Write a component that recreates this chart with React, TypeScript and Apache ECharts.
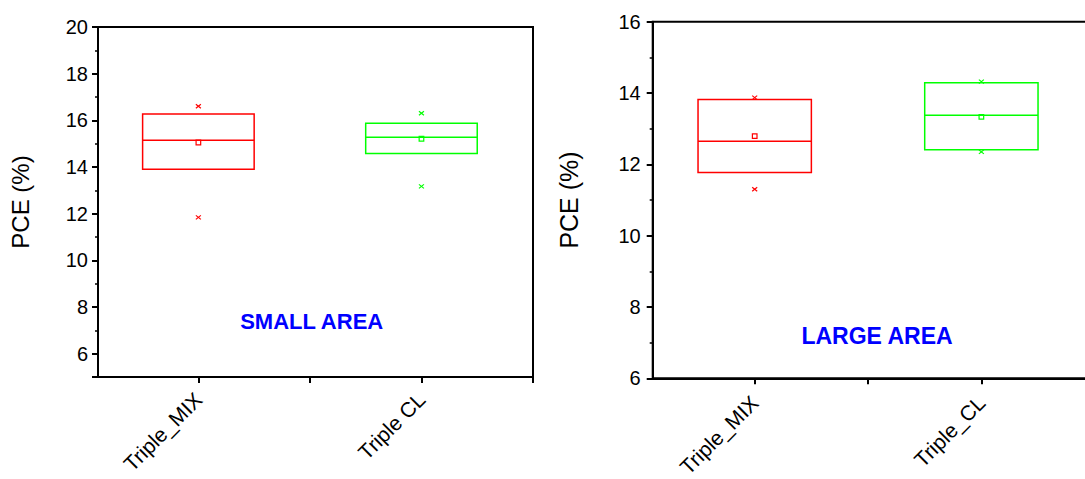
import React, { useEffect, useRef } from 'react';
import * as echarts from 'echarts';

// ---- data ----
const smallCategories = ['Triple_MIX', 'Triple CL'];
const largeCategories = ['Triple_MIX', 'Triple_CL'];
const positions = [1, 2];
const boxColors = ['#ff0000', '#00ff00'];

// SMALL AREA statistics
const smallQ1 = [13.9, 14.58];
const smallMedian = [15.15, 15.27];
const smallQ3 = [16.27, 15.87];
const smallMean = [15.05, 15.21];
const smallMin = [11.84, 13.17];
const smallMax = [16.6, 16.3];

// LARGE AREA statistics
const largeQ1 = [11.77, 12.41];
const largeMedian = [12.65, 13.38];
const largeQ3 = [13.82, 14.29];
const largeMean = [12.79, 13.33];
const largeMin = [11.3, 12.35];
const largeMax = [13.87, 14.32];

const BOX_WIDTH = 0.5;
const FONT = '"Liberation Sans", Arial, sans-serif';

function rows(q1: number[], med: number[], q3: number[], mean: number[], mn: number[], mx: number[]) {
  return positions.map((p, i) => [p, q1[i], med[i], q3[i], mean[i], mn[i], mx[i]]);
}

function renderBox(params: any, api: any) {
  const x = api.value(0);
  const q1 = api.value(1);
  const med = api.value(2);
  const q3 = api.value(3);
  const mean = api.value(4);
  const mn = api.value(5);
  const mx = api.value(6);
  const color = boxColors[params.dataIndex % boxColors.length];
  const left = api.coord([x - BOX_WIDTH / 2, q1])[0];
  const right = api.coord([x + BOX_WIDTH / 2, q1])[0];
  const cx = api.coord([x, q1])[0];
  const yq1 = api.coord([x, q1])[1];
  const yq3 = api.coord([x, q3])[1];
  const ymed = api.coord([x, med])[1];
  const ymean = api.coord([x, mean])[1];
  const ymin = api.coord([x, mn])[1];
  const ymax = api.coord([x, mx])[1];
  const lw = 1.5;
  const cross = (y: number) => [
    { type: 'line', shape: { x1: cx - 2.5, y1: y - 2, x2: cx + 2.5, y2: y + 2 }, style: { stroke: color, lineWidth: 1.2 } },
    { type: 'line', shape: { x1: cx - 2.5, y1: y + 2, x2: cx + 2.5, y2: y - 2 }, style: { stroke: color, lineWidth: 1.2 } },
  ];
  return {
    type: 'group',
    children: [
      {
        type: 'rect',
        shape: { x: left, y: yq3, width: right - left, height: yq1 - yq3 },
        style: { fill: 'none', stroke: color, lineWidth: lw },
      },
      {
        type: 'line',
        shape: { x1: left, y1: ymed, x2: right, y2: ymed },
        style: { stroke: color, lineWidth: lw },
      },
      {
        type: 'rect',
        shape: { x: cx - 2.3, y: ymean - 2.3, width: 4.6, height: 4.6 },
        style: { fill: 'none', stroke: color, lineWidth: 1.2 },
      },
      ...cross(ymin),
      ...cross(ymax),
    ],
  };
}

function xAxisFor(gridIndex: number, names: string[], margin: number) {
  return {
    type: 'value',
    gridIndex,
    min: 0.55,
    max: 2.5,
    minInterval: 0.5,
    maxInterval: 0.5,
    axisLine: { show: true, lineStyle: { color: '#000', width: 2 } },
    axisTick: { show: true, length: 6, lineStyle: { color: '#000', width: 2 } },
    splitLine: { show: false },
    axisLabel: {
      rotate: 45,
      margin,
      color: '#000',
      fontSize: 21,
      fontFamily: FONT,
      showMinLabel: false,
      formatter: (v: number) => {
        const idx = positions.indexOf(v);
        return idx >= 0 ? names[idx] : '';
      },
    },
  };
}

export default function App() {
  const ref = useRef<HTMLDivElement>(null);
  useEffect(() => {
    if (!ref.current) return;
    const chart = echarts.init(ref.current, undefined, { renderer: 'svg' });
    const option: any = {
      animation: false,
      backgroundColor: '#fff',
      grid: [
        { left: 98, top: 27, width: 435, height: 350, show: true, borderColor: '#000', borderWidth: 2, backgroundColor: 'transparent', containLabel: false, outerBoundsMode: 'none' },
        { left: 652.7, top: 21.7, width: 442, height: 356.6, show: true, borderColor: '#000', borderWidth: 2, backgroundColor: 'transparent', containLabel: false, outerBoundsMode: 'none' },
      ],
      xAxis: [xAxisFor(0, smallCategories, 19), xAxisFor(1, largeCategories, 21)],
      yAxis: [
        {
          type: 'value',
          gridIndex: 0,
          min: 5,
          max: 20,
          minInterval: 2,
          maxInterval: 2,
          name: 'PCE (%)',
          nameLocation: 'middle',
          nameGap: 66,
          nameTextStyle: { fontSize: 24, color: '#000', fontFamily: FONT },
          axisLine: { show: true, lineStyle: { color: '#000', width: 2 } },
          axisTick: { show: true, length: 6, lineStyle: { color: '#000', width: 2 } },
          minorTick: { show: true, splitNumber: 2, length: 3, lineStyle: { color: '#000', width: 1.5 } },
          splitLine: { show: false },
          axisLabel: { color: '#000', fontSize: 20, fontFamily: FONT, margin: 10, showMinLabel: false },
        },
        {
          type: 'value',
          gridIndex: 1,
          min: 6,
          max: 16,
          interval: 2,
          name: 'PCE (%)',
          nameLocation: 'middle',
          nameGap: 71,
          nameTextStyle: { fontSize: 25, color: '#000', fontFamily: FONT },
          axisLine: { show: true, lineStyle: { color: '#000', width: 2 } },
          axisTick: { show: true, length: 6, lineStyle: { color: '#000', width: 2 } },
          minorTick: { show: true, splitNumber: 2, length: 3, lineStyle: { color: '#000', width: 1.5 } },
          splitLine: { show: false },
          axisLabel: { color: '#000', fontSize: 20, fontFamily: FONT, margin: 12 },
        },
      ],
      graphic: [
        {
          type: 'text',
          x: 311.7,
          y: 321,
          style: { text: 'SMALL AREA', fill: '#0000ff', font: `bold 22px ${FONT}`, align: 'center', verticalAlign: 'middle' },
        },
        {
          type: 'text',
          x: 877,
          y: 336,
          style: { text: 'LARGE AREA', fill: '#0000ff', font: `bold 23px ${FONT}`, align: 'center', verticalAlign: 'middle' },
        },
      ],
      series: [
        {
          type: 'custom',
          xAxisIndex: 0,
          yAxisIndex: 0,
          renderItem: renderBox,
          encode: { x: 0, y: [1, 2, 3, 4, 5, 6] },
          data: rows(smallQ1, smallMedian, smallQ3, smallMean, smallMin, smallMax),
          silent: true,
        },
        {
          type: 'custom',
          xAxisIndex: 1,
          yAxisIndex: 1,
          renderItem: renderBox,
          encode: { x: 0, y: [1, 2, 3, 4, 5, 6] },
          data: rows(largeQ1, largeMedian, largeQ3, largeMean, largeMin, largeMax),
          silent: true,
        },
      ],
    };
    chart.setOption(option);
    return () => chart.dispose();
  }, []);
  return (
    <div style={{ position: 'absolute', left: 0, top: 0, width: 1085, height: 479, overflow: 'hidden', background: '#fff' }}>
      <div ref={ref} style={{ width: 1100, height: 479 }} />
    </div>
  );
}
